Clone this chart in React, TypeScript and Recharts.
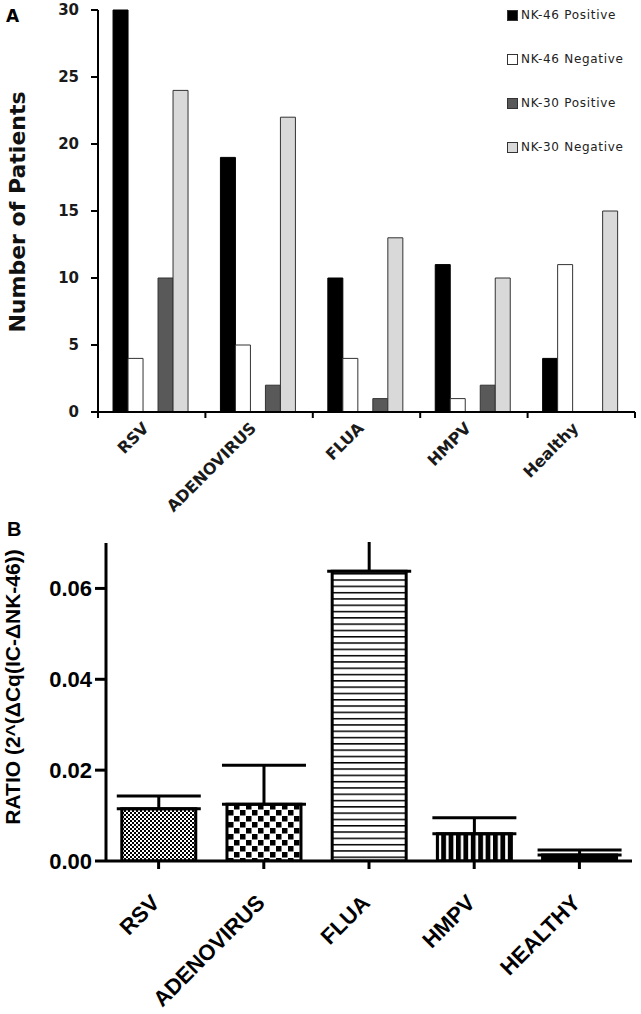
import React from "react";
import { BarChart, Bar, XAxis, YAxis, ErrorBar, Cell } from "recharts";

// Panel A: patients per virus, split by marker
const categoriesA = ["RSV", "ADENOVIRUS", "FLUA", "HMPV", "Healthy"];
const nk46Positive = [30, 19, 10, 11, 4];
const nk46Negative = [4, 5, 4, 1, 11];
const nk30Positive = [10, 2, 1, 2, 0];
const nk30Negative = [24, 22, 13, 10, 15];
const seriesNamesA = ["NK-46 Positive", "NK-46 Negative", "NK-30 Positive", "NK-30 Negative"];
const ticksA = [0, 5, 10, 15, 20, 25, 30];

// Panel B: expression ratio, mean + SEM
const categoriesB = ["RSV", "ADENOVIRUS", "FLUA", "HMPV", "HEALTHY"];
const ratioMean = [0.0115, 0.0125, 0.0638, 0.006, 0.0013];
const ratioErr = [0.0028, 0.0086, 0.012, 0.0035, 0.0011];
const ticksB = [0, 0.02, 0.04, 0.06];

const keysA = ["nk46pos", "nk46neg", "nk30pos", "nk30neg"];
const valuesA = [nk46Positive, nk46Negative, nk30Positive, nk30Negative];
const fillsA = ["#000000", "#ffffff", "#595959", "#d9d9d9"];
const patternIds = ["pFine", "pChecker", "pHoriz", "pVert", "pDots"];

const dataA = categoriesA.map((name, i) => {
  const row: Record<string, string | number> = { name };
  keysA.forEach((k, s) => {
    row[k] = valuesA[s][i];
  });
  return row;
});

const dataB = categoriesB.map((name, i) => ({
  name,
  ratio: ratioMean[i],
  err: [0, ratioErr[i]],
}));

const fontA = "DejaVu Sans";
const fontB = "Liberation Sans";

function CategoryTickA(props: any) {
  const { x, y, payload } = props;
  const half = payload?.offset ?? 0;
  const isLast = payload.value === categoriesA[categoriesA.length - 1];
  return (
    <g>
      <line x1={x - half} x2={x - half} y1={y} y2={y + 6} stroke="#000" strokeWidth={2} />
      {isLast && <line x1={x + half} x2={x + half} y1={y} y2={y + 6} stroke="#000" strokeWidth={2} />}
      <text
        transform={`translate(${x - 10},${y + 9}) rotate(-45)`}
        textAnchor="end"
        dy="0.72em"
        fontFamily={fontA}
        fontWeight={600}
        fontSize={16}
        fill="#1a1a1a"
      >
        {payload.value}
      </text>
    </g>
  );
}

function CategoryTickB(props: any) {
  const { x, y, payload } = props;
  return (
    <text
      transform={`translate(${x - 9},${y + 24}) rotate(-45)`}
      textAnchor="end"
      dy="0.72em"
      fontFamily={fontB}
      fontWeight="bold"
      fontSize={22}
      fill="#000"
    >
      {payload.value}
    </text>
  );
}

function LegendA() {
  return (
    <div style={{ position: "absolute", left: 507, top: -7 }}>
      {seriesNamesA.map((n, i) => (
        <div key={n} style={{ display: "flex", alignItems: "center", height: 44 }}>
          <span
            style={{
              width: 9,
              height: 9,
              background: fillsA[i],
              border: "1px solid #333",
              marginRight: 3,
            }}
          />
          <span style={{ fontFamily: fontA, fontSize: 12, letterSpacing: 0.7, color: "#222" }}>{n}</span>
        </div>
      ))}
    </div>
  );
}

export default function App() {
  return (
    <div style={{ position: "relative", width: 641, height: 1014, background: "#fff", overflow: "hidden" }}>
      <style>{"body{margin:0}"}</style>

      <div style={{ position: "absolute", left: 0, top: 0 }}>
        <BarChart
          width={641}
          height={530}
          data={dataA}
          margin={{ top: 10, right: 6, bottom: 0, left: 0 }}
          barCategoryGap="14%"
          barGap={0}
        >
          <XAxis
            dataKey="name"
            height={118}
            interval={0}
            tickLine={false}
            tickSize={0}
            tickMargin={0}
            axisLine={{ stroke: "#000", strokeWidth: 2 }}
            tick={<CategoryTickA />}
          />
          <YAxis
            width={98}
            domain={[0, 30]}
            ticks={ticksA}
            interval={0}
            tickSize={7}
            tickMargin={12}
            axisLine={{ stroke: "#000", strokeWidth: 2 }}
            tickLine={{ stroke: "#000", strokeWidth: 2 }}
            tick={{ fontFamily: fontA, fontWeight: "bold", fontSize: 15, fill: "#1a1a1a" }}
            label={{
              content: ({ viewBox }: any) => (
                <text
                  transform={`translate(25,${viewBox.y + viewBox.height / 2 + 1}) rotate(-90)`}
                  textAnchor="middle"
                  fontFamily={fontA}
                  fontWeight="bold"
                  fontSize={22}
                  fill="#111"
                >
                  Number of Patients
                </text>
              ),
            }}
          />
          {keysA.slice(0, 2).map((k, i) => (
            <Bar key={k} dataKey={k} name={seriesNamesA[i]} fill={fillsA[i]} stroke={i === 0 ? "#000" : "#333"} strokeWidth={1} isAnimationActive={false} />
          ))}
          <Bar dataKey="spacer" fill="none" isAnimationActive={false} />
          {keysA.slice(2).map((k, j) => (
            <Bar key={k} dataKey={k} name={seriesNamesA[j + 2]} fill={fillsA[j + 2]} stroke="#333" strokeWidth={1} isAnimationActive={false} />
          ))}
        </BarChart>
      </div>

      <LegendA />

      <div style={{ position: "absolute", left: 0, top: 510, clipPath: "inset(32px 0 0 0)" }}>
        <BarChart
          width={641}
          height={504}
          data={dataB}
          margin={{ top: 33, right: 9, bottom: 0, left: 0 }}
          barCategoryGap="15%"
        >
          <defs>
            <pattern id="pFine" width={4} height={4} patternUnits="userSpaceOnUse">
              <rect width={4} height={4} fill="#fff" />
              <rect width={2} height={2} fill="#000" />
              <rect x={2} y={2} width={2} height={2} fill="#000" />
            </pattern>
            <pattern id="pChecker" width={12} height={12} patternUnits="userSpaceOnUse">
              <rect width={12} height={12} fill="#fff" />
              <rect width={5.5} height={5.5} fill="#000" />
              <rect x={6} y={6} width={5.5} height={5.5} fill="#000" />
            </pattern>
            <pattern id="pHoriz" width={8} height={6.3} patternUnits="userSpaceOnUse">
              <rect width={8} height={6.3} fill="#fff" />
              <rect width={8} height={1.5} fill="#000" />
            </pattern>
            <pattern id="pVert" width={7.4} height={8} patternUnits="userSpaceOnUse">
              <rect width={7.4} height={8} fill="#000" />
              <rect x={2} width={2.6} height={8} fill="#fff" />
            </pattern>
            <pattern id="pDots" width={8} height={6} patternUnits="userSpaceOnUse">
              <rect width={8} height={6} fill="#000" />
              <rect x={2} y={2} width={3.5} height={2} fill="#fff" />
            </pattern>
          </defs>
          <XAxis
            dataKey="name"
            height={153}
            interval={0}
            tickSize={8}
            tickMargin={0}
            axisLine={{ stroke: "#000", strokeWidth: 3 }}
            tickLine={{ stroke: "#000", strokeWidth: 3 }}
            tick={<CategoryTickB />}
          />
          <YAxis
            width={106}
            domain={[0, 0.07]}
            allowDataOverflow
            ticks={ticksB}
            interval={0}
            tickSize={11}
            tickMargin={3}
            tickFormatter={(v: number) => v.toFixed(2)}
            axisLine={{ stroke: "#000", strokeWidth: 3 }}
            tickLine={{ stroke: "#000", strokeWidth: 3 }}
            tick={{ fontFamily: fontB, fontWeight: "bold", fontSize: 22, fill: "#000" }}
            label={{
              content: ({ viewBox }: any) => (
                <text
                  transform={`translate(20,${viewBox.y + viewBox.height / 2 - 15}) rotate(-90)`}
                  textAnchor="middle"
                  fontFamily={fontB}
                  fontWeight="bold"
                  fontSize={21}
                  fill="#000"
                >
                  RATIO (2^(ΔCq(IC-ΔNK-46))
                </text>
              ),
            }}
          />
          <Bar dataKey="ratio" stroke="#000" strokeWidth={3} isAnimationActive={false}>
            {dataB.map((d, i) => (
              <Cell key={d.name} fill={`url(#${patternIds[i]})`} />
            ))}
            <ErrorBar dataKey="err" direction="y" width={42} strokeWidth={3} stroke="#000" />
          </Bar>
        </BarChart>
      </div>

      <div style={{ position: "absolute", left: 6, top: 6, fontFamily: fontA, fontWeight: "bold", fontSize: 17 }}>A</div>
      <div style={{ position: "absolute", left: 7, top: 518, fontFamily: fontB, fontWeight: "bold", fontSize: 20 }}>B</div>
    </div>
  );
}
